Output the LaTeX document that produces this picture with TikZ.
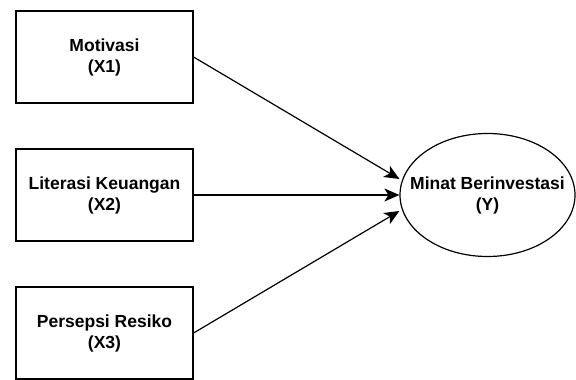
\documentclass[tikz,border=0pt]{standalone}
\usepackage{fontspec}
\setmainfont{Liberation Sans}
\usepackage{tikz}
\usetikzlibrary{arrows.meta,positioning,calc,shapes.geometric}

\begin{document}
\begin{tikzpicture}[x=1pt,y=1pt,
var/.style={rectangle,draw,line width=1.2pt,minimum width=177pt,minimum height=92pt,align=center,font=\bfseries\fontsize{17.5}{21}\selectfont},
lat/.style={ellipse,draw,line width=1.2pt,minimum width=175pt,minimum height=123pt,inner sep=0pt},
lbl/.style={align=center,font=\bfseries\fontsize{17.5}{21}\selectfont},
edge/.style={-{Stealth[length=15pt,width=13pt,inset=4pt]},line width=1.2pt}]
\useasboundingbox (0,0) rectangle (576,380);
\node[var] (mot) at (104.5,323) {Motivasi\\(X1)};
\node[var] (lit) at (104.5,185) {Literasi Keuangan\\(X2)};
\node[var] (per) at (104.5,47) {Persepsi Resiko\\(X3)};
\node[lat] (minat) at (487.5,185) {};
\node[lbl] (minattxt) at (minat.center) {Minat Berinvestasi\\(Y)};
\draw[edge] (mot.east) -- ([yshift=16pt]minat.west);
\draw[edge] (lit.east) -- (minat.west);
\draw[edge] (per.east) -- ([yshift=-16pt]minat.west);
\end{tikzpicture}
\end{document}
